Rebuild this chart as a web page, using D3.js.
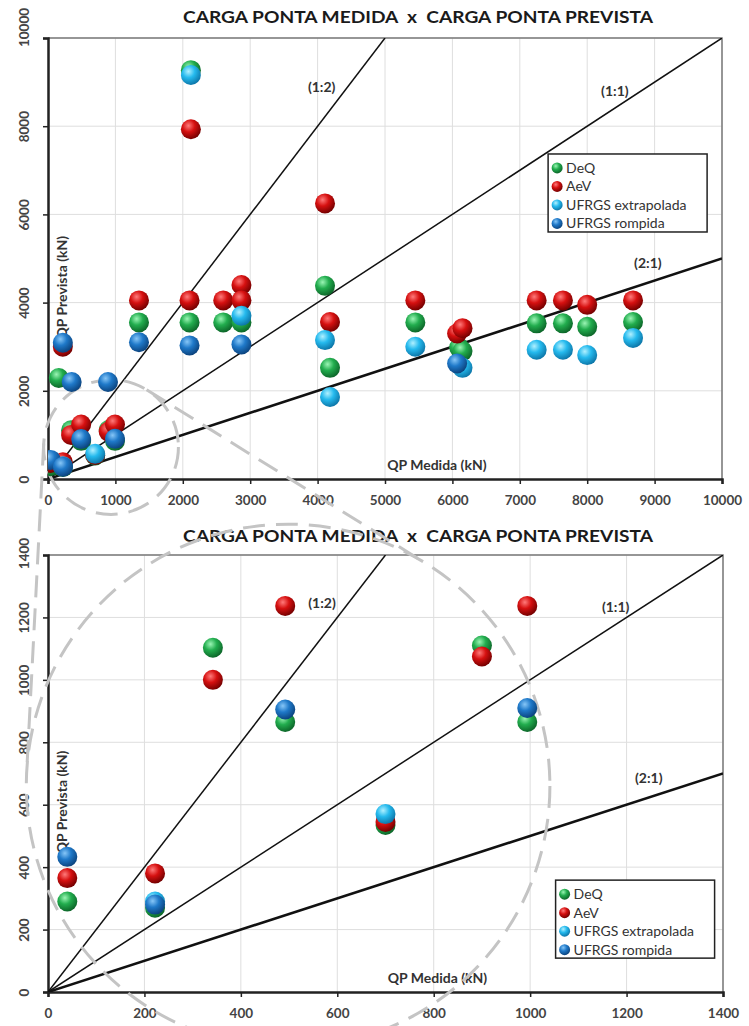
<!DOCTYPE html>
<html>
<head>
<meta charset="utf-8">
<title>Carga ponta medida x prevista</title>
<script src="https://d3js.org/d3.v7.min.js"></script>
<style>
  body { margin: 0; background: #fff; }
  text { font-family: Lato, "Open Sans", sans-serif; }
</style>
</head>
<body>
<svg width="749" height="1026"></svg>
<script>
// --- dados (QP medida, QP prevista) em kN ---
const seriesNames = ["DeQ", "AeV", "UFRGS extrapolada", "UFRGS rompida"];
const deq = [[40,290],[222,270],[160,2290],[342,1103],[492,865],[700,535],[900,1110],[994,865],
  [1350,3550],[2100,3550],[2120,9270],[2600,3550],[2870,3550],[4110,4380],[4184,2520],[5450,3550],
  [6100,2980],[6150,2900],[7250,3530],[7640,3530],[8000,3450],[8680,3560]];
const aev = [[40,365],[222,380],[220,3000],[342,1000],[492,1237],[700,545],[900,1075],[994,1237],
  [1350,4050],[2100,4050],[2120,7930],[2600,4050],[2870,4400],[2870,4050],[4110,6250],[4184,3560],
  [5450,4050],[6070,3300],[6150,3420],[7250,4050],[7640,4050],[8000,3950],[8680,4050]];
const extrapolada = [[222,290],[700,570],[2120,9160],[2870,3700],[4110,3150],[4184,1860],[5450,3000],
  [6150,2520],[7250,2930],[7640,2930],[8000,2810],[8680,3200]];
const rompida = [[40,433],[220,3090],[222,280],[351,2200],[492,905],[890,2200],[994,910],[1350,3100],
  [2100,3030],[2870,3050],[6070,2620]];
const allSeries = [deq, aev, extrapolada, rompida];

// retas de referência: QP prevista = razão * QP medida
const ratios = [2, 1, 0.5];
const ratioLabels = ["(1:2)", "(1:1)", "(2:1)"];

const title = "CARGA PONTA MEDIDA  x  CARGA PONTA PREVISTA";

// cores das esferas: brilho, base, sombra
const shades = [
  ["#9af5b4", "#22ad4e", "#0c6428"],
  ["#ff7a7a", "#d61010", "#720000"],
  ["#b0f0ff", "#25baee", "#0c74a6"],
  ["#86c6f7", "#1f79c9", "#0b427c"]
];

const svg = d3.select("svg");
const defs = svg.append("defs");
shades.forEach((s, i) => {
  const gr = defs.append("radialGradient").attr("id", "sph" + i)
    .attr("cx", "38%").attr("cy", "32%").attr("r", "70%");
  gr.append("stop").attr("offset", "0%").attr("stop-color", s[0]);
  gr.append("stop").attr("offset", "45%").attr("stop-color", s[1]);
  gr.append("stop").attr("offset", "100%").attr("stop-color", s[2]);
});

const charts = [
  { top: 38, bottom: 479, left: 48, right: 722, xmax: 10000, ymax: 10000, xstep: 1000, ystep: 2000,
    gridY: 2000, titleY: 23, legend: [0.742, 0.263], topLabelShift: -11 },
  { top: 555, bottom: 992, left: 48, right: 723, xmax: 1400, ymax: 1400, xstep: 200, ystep: 200,
    gridY: 200, titleY: 542, legend: [0.752, 0.744], topLabelShift: -2 }
];

function drawChart(c, idx) {
  const x = d3.scaleLinear().domain([0, c.xmax]).range([c.left, c.right]);
  const y = d3.scaleLinear().domain([0, c.ymax]).range([c.bottom, c.top]);
  const g = svg.append("g");

  defs.append("clipPath").attr("id", "clip" + idx).append("rect")
    .attr("x", c.left).attr("y", c.top).attr("width", c.right - c.left).attr("height", c.bottom - c.top);

  // grade
  g.append("g").selectAll("line").data(d3.range(c.xstep, c.xmax + 1, c.xstep)).join("line")
    .attr("x1", d => x(d)).attr("x2", d => x(d)).attr("y1", c.top).attr("y2", c.bottom)
    .attr("stroke", "#dedede").attr("stroke-width", 1);
  g.append("g").selectAll("line").data(d3.range(c.gridY, c.ymax + 1, c.gridY)).join("line")
    .attr("y1", d => y(d)).attr("y2", d => y(d)).attr("x1", c.left).attr("x2", c.right)
    .attr("stroke", "#dedede").attr("stroke-width", 1);
  g.append("path").attr("d", `M${c.left},${c.top}H${c.right}V${c.bottom}`)
    .attr("fill", "none").attr("stroke", "#7a7a7a").attr("stroke-width", 1.5);

  // título
  g.append("text").attr("x", 418).attr("y", c.titleY).attr("text-anchor", "middle")
    .attr("font-size", 17).attr("font-weight", "bold").attr("fill", "#1a1a1a")
    .attr("textLength", 470).attr("lengthAdjust", "spacingAndGlyphs")
    .style("white-space", "pre").text(title);

  // eixos
  const xa = g.append("g").attr("transform", `translate(0,${c.bottom})`)
    .call(d3.axisBottom(x).tickValues(d3.range(0, c.xmax + 1, c.xstep)).tickSize(5).tickPadding(11)
      .tickFormat(d3.format("d")));
  const ya = g.append("g").attr("transform", `translate(${c.left},0)`)
    .call(d3.axisLeft(y).tickValues(d3.range(0, c.ymax + 1, c.ystep)).tickSize(5)
      .tickFormat(d3.format("d")));
  [xa, ya].forEach(a => {
    a.select(".domain").attr("stroke", "#222").attr("stroke-width", 2.5);
    a.selectAll(".tick line").attr("stroke", "#222").attr("stroke-width", 1.5);
    a.selectAll("text").attr("font-size", 13.5).attr("font-weight", "bold").attr("fill", "#444")
      .attr("font-family", "Lato, sans-serif");
  });
  ya.selectAll("text").attr("x", 0).attr("dy", 0).attr("text-anchor", "middle")
    .attr("transform", d => `translate(-19,${d === c.ymax ? c.topLabelShift : 0}) rotate(-90)`);

  // títulos dos eixos (dentro da área)
  g.append("text").attr("x", x(c.xmax * 0.577)).attr("y", c.bottom - 9).attr("text-anchor", "middle")
    .attr("font-size", 14).attr("font-weight", "bold").attr("fill", "#333").text("QP Medida (kN)");
  g.append("text").attr("transform", `translate(${c.left + 19},${y(c.ymax * 0.435)}) rotate(-90)`)
    .attr("text-anchor", "middle").attr("font-size", 14).attr("font-weight", "bold").attr("fill", "#333")
    .text("QP Prevista (kN)");

  // retas de referência
  const lg = g.append("g").attr("clip-path", `url(#clip${idx})`);
  lg.selectAll("line").data(ratios).join("line")
    .attr("x1", x(0)).attr("y1", y(0))
    .attr("x2", r => x(Math.min(c.xmax, c.ymax / r)))
    .attr("y2", r => y(Math.min(c.ymax, c.xmax * r)))
    .attr("stroke", "#111").attr("stroke-width", r => r < 1 ? 2.6 : 1.5);
  const labelPos = [[0.406, 0.89], [0.841, 0.88], [0.89, 0.49]];
  g.selectAll(".rlab").data(ratioLabels).join("text").attr("class", "rlab")
    .attr("x", (d, i) => x(c.xmax * labelPos[i][0])).attr("y", (d, i) => y(c.ymax * labelPos[i][1]) + 5)
    .attr("text-anchor", "middle").attr("font-size", 14).attr("font-weight", "bold").attr("fill", "#333")
    .text(d => d);

  return { x, y, c, idx };
}

const drawn = charts.map(drawChart);

// anotação: círculo de zoom e tangentes
const zoomSmall = { cx: 935, cy: 725, r: 1000 };   // unidades do gráfico superior
const zoomBig = { cx: 498, cy: 660, r: 543 };      // unidades do gráfico inferior
function toPx(z, d) {
  return { x: d.x(z.cx), y: d.y(z.cy), r: d.x(z.r) - d.x(0) };
}
const a = toPx(zoomSmall, drawn[0]);
const b = toPx(zoomBig, drawn[1]);
const ann = svg.append("g").attr("fill", "none").attr("stroke", "#c4c4c4")
  .attr("stroke-width", 3).attr("stroke-dasharray", "22,11");
ann.selectAll("circle").data([a, b]).join("circle")
  .attr("cx", d => d.x).attr("cy", d => d.y).attr("r", d => d.r);
(function () {
  const dx = b.x - a.x, dy = b.y - a.y, d = Math.hypot(dx, dy);
  const base = Math.atan2(dy, dx), phi = Math.acos((a.r - b.r) / d);
  [1, -1].forEach(s => {
    const t = base + s * phi, nx = Math.cos(t), ny = Math.sin(t);
    ann.append("line")
      .attr("x1", a.x + a.r * nx).attr("y1", a.y + a.r * ny)
      .attr("x2", b.x + b.r * nx).attr("y2", b.y + b.r * ny);
  });
})();

// pontos e legendas
drawn.forEach(d => {
  const pg = svg.append("g").attr("clip-path", `url(#clip${d.idx})`);
  allSeries.forEach((pts, i) => {
    pg.append("g").selectAll("circle").data(pts).join("circle")
      .attr("cx", p => d.x(p[0])).attr("cy", p => d.y(p[1])).attr("r", 10)
      .attr("fill", `url(#sph${i})`);
  });
  const lx = d.x(d.c.xmax * d.c.legend[0]), ly = d.y(d.c.ymax * (1 - d.c.legend[1]));
  const leg = svg.append("g").attr("transform", `translate(${lx},${ly})`);
  leg.append("rect").attr("width", 159).attr("height", 78).attr("fill", "#fff")
    .attr("stroke", "#222").attr("stroke-width", 1.5);
  const it = leg.selectAll("g").data(seriesNames).join("g")
    .attr("transform", (n, i) => `translate(0,${14 + i * 18.5})`);
  it.append("circle").attr("cx", 9).attr("cy", 0).attr("r", 5.5).attr("fill", (n, i) => `url(#sph${i})`);
  it.append("text").attr("x", 18).attr("y", 5).attr("font-size", 14).attr("fill", "#333").text(n => n);
});
</script>
</body>
</html>
